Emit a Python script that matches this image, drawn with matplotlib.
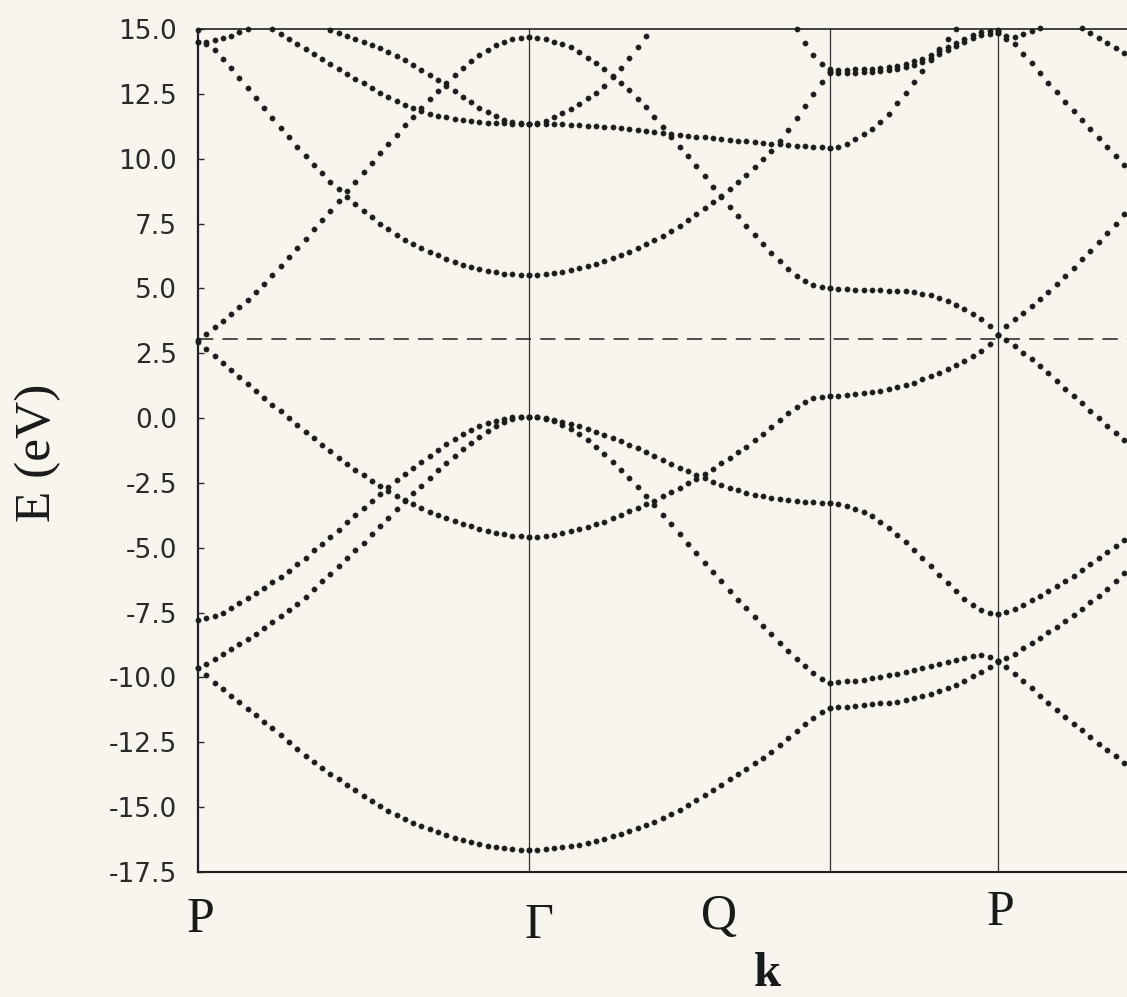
import numpy as np
import matplotlib
matplotlib.use("Agg")
import matplotlib.pyplot as plt

nan = np.nan

# path P - Gamma - X - P (k in units of |P-Gamma|), right end is cut off
k_points = [0.0, 1.0, 1.9094, 2.4169]
k_max = 2.8066
point_labels = ["P", "Γ", "Q", "P"]
label_k = [0.006, 1.03, 1.574, 2.423]
fermi = 3.05

# segment 1: P -> Gamma (41 k points)
s1_a = [-9.63, -9.9, -10.2, -10.45, -10.7, -10.95, -11.2, -11.45, -11.7, -11.95, -12.22, -12.5, -12.76, -13.02,
        -13.27, -13.49, -13.71, -13.92, -14.13, -14.34, -14.56, -14.76, -14.96, -15.14, -15.3, -15.45, -15.6,
        -15.74, -15.86, -15.97, -16.07, -16.17, -16.26, -16.34, -16.42, -16.49, -16.54, -16.59, -16.62, -16.64, -16.65]
s1_b1 = [-7.78, -7.72, -7.62, -7.51, -7.33, -7.14, -6.95, -6.76, -6.55, -6.33, -6.11, -5.9, -5.64, -5.38, -5.1,
         -4.84, -4.57, -4.3, -4.02, -3.75, -3.47, -3.2, -2.93, -2.66, -2.4, -2.15, -1.92, -1.68, -1.45, -1.22, -1.0,
         -0.81, -0.63, -0.47, -0.32, -0.2, -0.1, -0.02, 0.03, 0.05, 0.06]
s1_b2 = [-9.63, -9.47, -9.29, -9.1, -8.91, -8.72, -8.52, -8.32, -8.1, -7.87, -7.64, -7.41, -7.15, -6.88, -6.6,
         -6.3, -6.0, -5.7, -5.4, -5.1, -4.8, -4.48, -4.16, -3.84, -3.52, -3.2, -2.9, -2.6, -2.3, -2.01, -1.73,
         -1.46, -1.2, -0.95, -0.72, -0.5, -0.3, -0.14, -0.02, 0.03, 0.05]
s1_c = [2.95, 2.68, 2.41, 2.14, 1.87, 1.6, 1.33, 1.06, 0.79, 0.52, 0.26, 0.0, -0.26, -0.52, -0.78, -1.03, -1.28,
        -1.52, -1.76, -1.99, -2.21, -2.42, -2.62, -2.81, -2.99, -3.16, -3.32, -3.47, -3.61, -3.74, -3.86, -3.97,
        -4.08, -4.18, -4.27, -4.35, -4.42, -4.48, -4.53, -4.56, -4.58]
s1_d = [3.0, 3.25, 3.5, 3.76, 4.02, 4.29, 4.57, 4.86, 5.17, 5.5, 5.85, 6.2, 6.56, 6.92, 7.28, 7.64, 8.0, 8.37,
        8.74, 9.11, 9.48, 9.85, 10.21, 10.57, 10.93, 11.28, 11.62, 11.96, 12.29, 12.61, 12.92, 13.22, 13.5, 13.76,
        14.0, 14.2, 14.37, 14.5, 14.6, 14.66, 14.68]
s1_e = [14.5, 14.42, 14.2, 13.85, 13.48, 13.1, 12.72, 12.34, 11.96, 11.58, 11.2, 10.83, 10.46, 10.1, 9.76, 9.43,
        9.12, 8.82, 8.53, 8.25, 7.99, 7.74, 7.5, 7.28, 7.07, 6.87, 6.72, 6.56, 6.41, 6.27, 6.14, 6.02, 5.92, 5.83,
        5.75, 5.68, 5.62, 5.57, 5.54, 5.52, 5.52]
s1_f = [nan] * 9 + [15.0, 14.82, 14.63, 14.43, 14.23, 14.03, 13.84, 13.65, 13.46, 13.27, 13.08, 12.9, 12.72,
                    12.55, 12.38, 12.22, 12.07, 11.94, 11.83, 11.74, 11.66, 11.59, 11.53, 11.48, 11.44, 11.41,
                    11.39, 11.37, 11.36, 11.35, 11.35, 11.35]
s1_h = [nan] * 16 + [14.96, 14.85, 14.74, 14.63, 14.51, 14.39, 14.26, 14.12, 13.97, 13.8, 13.62, 13.43, 13.23,
                     13.03, 12.82, 12.6, 12.38, 12.17, 11.97, 11.79, 11.63, 11.5, 11.41, 11.36, 11.35]
s1_g = [14.5, 14.5, 14.56, 14.64, 14.74, 14.88, 15.0] + [nan] * 34
s1_t = [14.95] + [nan] * 40

# segment 2: Gamma -> X (37 k points)
s2_a = [-16.65, -16.64, -16.62, -16.59, -16.55, -16.5, -16.44, -16.37, -16.3, -16.22, -16.13, -16.03, -15.93,
        -15.82, -15.7, -15.57, -15.43, -15.27, -15.1, -14.92, -14.73, -14.53, -14.33, -14.13, -13.93, -13.73,
        -13.52, -13.31, -13.1, -12.86, -12.6, -12.33, -12.06, -11.8, -11.56, -11.34, -11.17]
s2_b1 = [0.06, 0.04, -0.02, -0.12, -0.25, -0.42, -0.62, -0.85, -1.1, -1.38, -1.68, -1.99, -2.32, -2.66, -3.01,
         -3.37, -3.73, -4.1, -4.47, -4.84, -5.21, -5.58, -5.94, -6.3, -6.65, -7.0, -7.34, -7.68, -8.01, -8.34,
         -8.66, -8.97, -9.27, -9.56, -9.82, -10.05, -10.2]
s2_b2 = [0.05, 0.03, -0.01, -0.07, -0.14, -0.22, -0.31, -0.41, -0.52, -0.64, -0.76, -0.89, -1.03, -1.17, -1.31,
         -1.46, -1.61, -1.76, -1.91, -2.05, -2.19, -2.32, -2.45, -2.57, -2.68, -2.78, -2.87, -2.95, -3.02, -3.08,
         -3.13, -3.17, -3.2, -3.22, -3.24, -3.26, -3.27]
s2_c = [-4.58, -4.57, -4.54, -4.5, -4.44, -4.37, -4.29, -4.2, -4.1, -3.99, -3.87, -3.74, -3.6, -3.47, -3.33,
        -3.18, -3.02, -2.86, -2.69, -2.52, -2.35, -2.16, -1.96, -1.75, -1.54, -1.32, -1.1, -0.86, -0.61, -0.35,
        -0.06, 0.2, 0.42, 0.62, 0.76, 0.82, 0.85]
s2_d = [14.68, 14.66, 14.6, 14.5, 14.42, 14.3, 14.12, 13.9, 13.7, 13.46, 13.2, 12.92, 12.63, 12.32, 12.0, 11.62,
        11.23, 10.84, 10.46, 10.09, 9.72, 9.32, 8.92, 8.53, 8.15, 7.78, 7.42, 7.07, 6.72, 6.38, 6.05, 5.74, 5.47,
        5.27, 5.14, 5.07, 5.02]
s2_e = [5.52, 5.53, 5.56, 5.6, 5.65, 5.71, 5.78, 5.86, 5.95, 6.05, 6.16, 6.28, 6.41, 6.55, 6.7, 6.86, 7.03, 7.22,
        7.42, 7.63, 7.85, 8.08, 8.32, 8.57, 8.83, 9.1, 9.38, 9.67, 9.97, 10.3, 10.68, 11.1, 11.56, 12.04, 12.5,
        12.94, 13.35]
s2_h = [11.35, 11.35, 11.34, 11.33, 11.32, 11.31, 11.29, 11.27, 11.25, 11.23, 11.21, 11.18, 11.15, 11.12, 11.08,
        11.04, 11.0, 10.96, 10.92, 10.88, 10.85, 10.82, 10.79, 10.76, 10.73, 10.7, 10.67, 10.64, 10.61, 10.58,
        10.55, 10.52, 10.5, 10.48, 10.46, 10.44, 10.42]
s2_i = [11.35, 11.38, 11.47, 11.6, 11.76, 11.93, 12.12, 12.33, 12.55, 12.82, 13.15, 13.5, 13.88, 14.3,
        14.72] + [nan] * 22
s2_j = [nan] * 32 + [15.0, 14.45, 14.0, 13.65, 13.38]

# segment 3: X -> P (21 k points)
s3_a = [-11.17, -11.15, -11.12, -11.09, -11.06, -11.03, -11.0, -10.97, -10.93, -10.88, -10.81, -10.72, -10.62,
        -10.52, -10.42, -10.28, -10.13, -9.96, -9.79, -9.6, -9.4]
s3_b1 = [-10.2, -10.18, -10.15, -10.12, -10.08, -10.03, -9.97, -9.91, -9.85, -9.78, -9.71, -9.64, -9.57, -9.49,
         -9.41, -9.33, -9.25, -9.18, -9.15, -9.22, -9.38]
s3_b2 = [-3.27, -3.32, -3.4, -3.5, -3.62, -3.78, -3.99, -4.24, -4.5, -4.78, -5.07, -5.38, -5.71, -6.04, -6.37,
         -6.67, -6.96, -7.2, -7.39, -7.5, -7.55]
s3_c = [0.85, 0.87, 0.9, 0.93, 0.96, 1.0, 1.04, 1.11, 1.19, 1.28, 1.37, 1.49, 1.62, 1.75, 1.89, 2.03, 2.19, 2.38,
        2.6, 2.86, 3.2]
s3_d = [5.02, 4.98, 4.96, 4.95, 4.94, 4.93, 4.92, 4.91, 4.9, 4.88, 4.85, 4.8, 4.73, 4.63, 4.5, 4.36, 4.2, 4.02,
        3.81, 3.55, 3.2]
s3_e1 = [13.44, 13.43, 13.43, 13.44, 13.45, 13.47, 13.5, 13.54, 13.59, 13.66, 13.75, 13.86, 13.99, 14.14, 14.3,
         14.46, 14.62, 14.76, 14.87, 14.94, 14.96]
s3_e2 = [13.32, 13.31, 13.31, 13.32, 13.33, 13.35, 13.38, 13.42, 13.47, 13.54, 13.63, 13.74, 13.87, 14.02, 14.18,
         14.34, 14.5, 14.64, 14.75, 14.82, 14.84]
s3_h = [10.42, 10.47, 10.58, 10.76, 10.95, 11.15, 11.4, 11.73, 12.13, 12.55, 12.97, 13.38, 13.8, 14.22, 14.62,
        15.0] + [nan] * 5

# segment 4: beyond P (17 k points, cut at the right edge)
s4_a = [-9.38, -9.6, -9.86, -10.14, -10.42, -10.7, -10.98, -11.25, -11.52, -11.78, -12.04, -12.3, -12.55, -12.8,
        -13.04, -13.28, -13.52]
s4_b1 = [-9.38, -9.25, -9.08, -8.88, -8.68, -8.47, -8.26, -8.04, -7.82, -7.59, -7.36, -7.11, -6.85, -6.58, -6.29,
         -5.99, -5.68]
s4_b2 = [-7.55, -7.48, -7.35, -7.19, -7.02, -6.85, -6.67, -6.48, -6.28, -6.07, -5.86, -5.64, -5.41, -5.18, -4.95,
         -4.71, -4.47]
s4_c = [3.2, 3.0, 2.76, 2.52, 2.26, 2.0, 1.72, 1.43, 1.14, 0.86, 0.57, 0.29, 0.0, -0.29, -0.57, -0.84, -1.1]
s4_d = [3.2, 3.55, 3.82, 4.07, 4.32, 4.58, 4.87, 5.17, 5.48, 5.8, 6.13, 6.46, 6.8, 7.14, 7.5, 7.88, 8.26]
s4_e = [14.92, 14.72, 14.42, 14.05, 13.67, 13.29, 12.92, 12.56, 12.2, 11.84, 11.48, 11.13, 10.78, 10.44, 10.1,
        9.77, 9.45]
s4_f = [14.84, 14.6, 14.7, 14.82, 14.93, 15.05] + [nan] * 11
s4_g = [nan] * 10 + [15.02, 14.84, 14.66, 14.47, 14.27, 14.06, 13.85]

bg = "#f8f5ef"
ink = "#1c1c1c"
plt.rcParams["axes.unicode_minus"] = False

# k grids for every segment
dk3 = (k_points[3] - k_points[2]) / 20
segments = [
    (np.linspace(k_points[0], k_points[1], 41), [s1_a, s1_b1, s1_b2, s1_c, s1_d, s1_e, s1_f, s1_h, s1_g, s1_t]),
    (np.linspace(k_points[1], k_points[2], 37), [s2_a, s2_b1, s2_b2, s2_c, s2_d, s2_e, s2_h, s2_i, s2_j]),
    (np.linspace(k_points[2], k_points[3], 21), [s3_a, s3_b1, s3_b2, s3_c, s3_d, s3_e1, s3_e2, s3_h]),
    (k_points[3] + dk3 * np.arange(17), [s4_a, s4_b1, s4_b2, s4_c, s4_d, s4_e, s4_f, s4_g]),
]

fig = plt.figure(figsize=(11.27, 9.97), dpi=100)
fig.patch.set_facecolor(bg)
ax = fig.add_axes([198 / 1127, 125 / 997, 929 / 1127, 843 / 997])
ax.set_facecolor(bg)

for k, bands in segments:
    for e in bands:
        ax.plot(k, e, ls="none", marker="o", ms=3.8, mfc=ink, mec=ink, mew=0.3, clip_on=False, zorder=3)

for kp in k_points[1:]:
    ax.axvline(kp, color="#333333", lw=0.9, zorder=1)
ax.axhline(fermi, color="#222222", lw=1.1, dashes=(10, 6), zorder=1)

ax.set_xlim(0, k_max)
ax.set_ylim(-17.5, 15.0)
yt = np.arange(-17.5, 15.01, 2.5)
ax.set_yticks(yt)
ax.set_yticklabels([f"{v:.1f}" for v in yt])
ax.set_xticks([])
ax.tick_params(axis="y", direction="in", length=4.5, width=1.0, labelsize=19, pad=15,
               colors="#2a2a2a", labelcolor="#2a2a2a")
for lab in ax.get_yticklabels():
    lab.set_family("DejaVu Sans")

ax.spines["right"].set_visible(False)
ax.spines["left"].set_linewidth(1.6)
ax.spines["top"].set_linewidth(1.2)
ax.spines["bottom"].set_linewidth(1.5)
for s in ["left", "top", "bottom"]:
    ax.spines[s].set_color("#222222")

# high-symmetry labels under the axis
label_y = [-0.0712, -0.0783, -0.0676, -0.0629]
for kl, yl, name in zip(label_k, label_y, point_labels):
    ax.text(kl, yl, name, transform=ax.get_xaxis_transform(), ha="center", va="baseline",
            fontsize=36, family="Liberation Serif", color="#1a1a1a")

fig.text(37.5 / 1127, 1 - 453 / 997, "E (eV)", rotation=90, ha="center", va="center",
         fontsize=37, family="Liberation Serif", color="#1a1a1a")
fig.text(767 / 1127, 1 - 986 / 997, "k", ha="center", va="baseline", fontsize=35,
         family="Liberation Serif", weight="bold", color="#1a1a1a")

fig.savefig("out.png", dpi=100, facecolor=bg)
